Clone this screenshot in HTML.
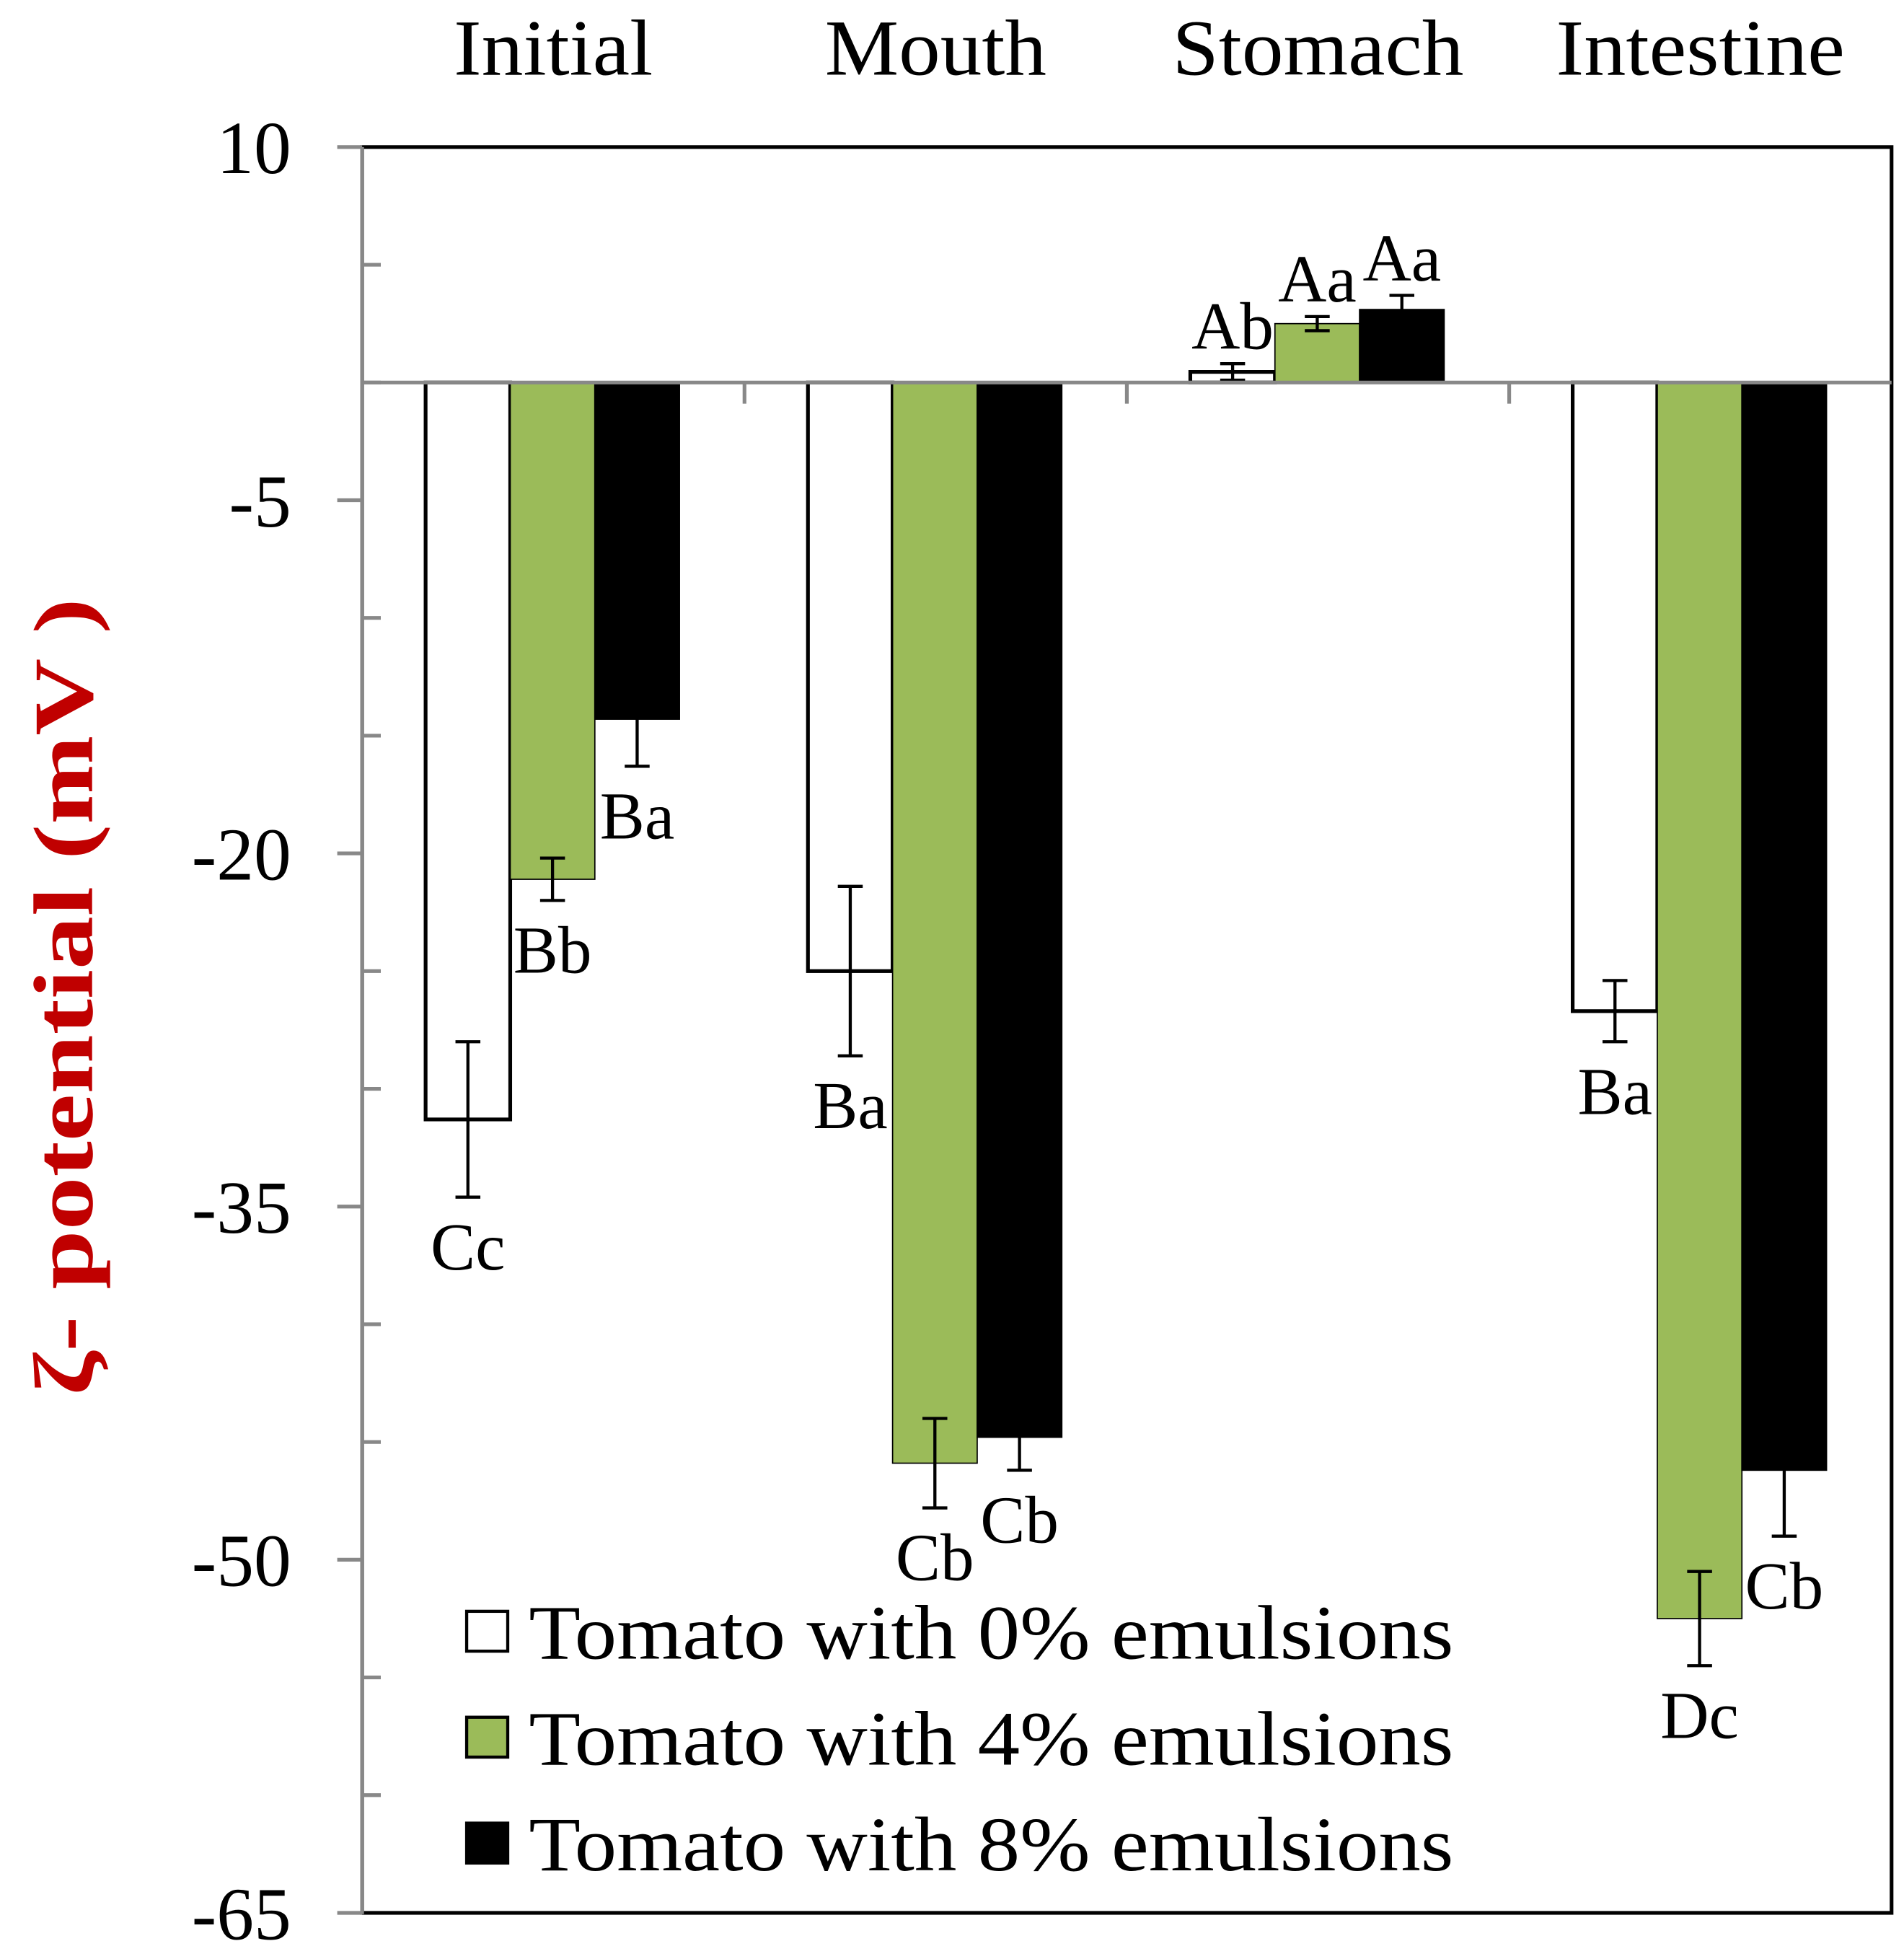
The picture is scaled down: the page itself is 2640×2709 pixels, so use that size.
<!DOCTYPE html>
<html><head><meta charset="utf-8"><style>
html,body{margin:0;padding:0;background:#fff;}
svg{display:block;}
text{font-family:"Liberation Serif",serif;}
</style></head><body>
<svg id="chart" width="2640" height="2709" viewBox="0 0 1530 1568" preserveAspectRatio="none" xmlns="http://www.w3.org/2000/svg"></svg>
<script>
const categories = ["Initial","Mouth","Stomach","Intestine"];
const seriesNames = ["Tomato with 0% emulsions","Tomato with 4% emulsions","Tomato with 8% emulsions"];
const values0 = [-31.3,-25.0,0.45,-26.7];
const values4 = [-21.1,-45.9,2.5,-52.5];
const values8 = [-14.3,-44.8,3.1,-46.2];
const errors0 = [3.3,3.6,0.35,1.3];
const errors4 = [0.9,1.9,0.3,2.0];
const errors8 = [2.0,1.4,0.6,2.8];
const letters0 = ["Cc","Ba","Ab","Ba"];
const letters4 = ["Bb","Cb","Aa","Dc"];
const letters8 = ["Ba","Cb","Aa","Cb"];
const yTicks = [10,-5,-20,-35,-50,-65];

const NS="http://www.w3.org/2000/svg";
const svg=document.getElementById('chart');
const L=291,R=1520,T=118,B=1535,ymax=10,ymin=-65;
const y=v=>T+(ymax-v)/(ymax-ymin)*(B-T);
const catW=(R-L)/categories.length;
const barW=68, off=51;
const x=(ci,si)=>L+ci*catW+off+si*barW;
function mk(tag,attrs,parent){const e=document.createElementNS(NS,tag);for(const k in attrs)e.setAttribute(k,attrs[k]);(parent||svg).appendChild(e);return e;}

const frame=mk('rect',{x:L,y:T,width:R-L,height:B-T,fill:'none',stroke:'#000','stroke-width':3});



const colors=['#ffffff','#9bbb59','#000000'];
const vals=[values0,values4,values8], errs=[errors0,errors4,errors8], lets=[letters0,letters4,letters8];
for(let s=0;s<3;s++){
  for(let c=0;c<categories.length;c++){
    const v=vals[s][c], y0=y(0), yv=y(v);
    const r=mk('rect',{x:x(c,s),y:Math.min(y0,yv),width:barW,height:Math.abs(yv-y0),fill:colors[s],stroke:'#000','stroke-width':s===0?3:1});
    
    
  }
}
for(let s=0;s<3;s++){
  for(let c=0;c<categories.length;c++){
    const v=vals[s][c], e=errs[s][c], cx=x(c,s)+barW/2;
    const g=mk('g',{stroke:'#000','stroke-width':2.5});
    
    
    mk('line',{x1:cx,x2:cx,y1:y(v+e),y2:y(v-e)},g);
    mk('line',{x1:cx-10,x2:cx+10,y1:y(v+e),y2:y(v+e)},g);
    mk('line',{x1:cx-10,x2:cx+10,y1:y(v-e),y2:y(v-e)},g);
    const ly = v>=0 ? y(v+e)-12 : y(v-e)+58;
    const t=mk('text',{x:cx,y:ly,'font-size':54,'text-anchor':'middle',fill:'#000'});
    t.textContent=lets[s][c];
    
    
  }
}
const zl=mk('line',{x1:L,x2:R,y1:y(0),y2:y(0),stroke:'#888','stroke-width':3});


for(let c=1;c<categories.length;c++){
  const tk=mk('line',{x1:L+c*catW,x2:L+c*catW,y1:y(0),y2:y(0)+17,stroke:'#888','stroke-width':3});
  
  
}
const la=mk('line',{x1:L,x2:L,y1:T,y2:B+1,stroke:'#888','stroke-width':3});


for(let v=ymax;v>=ymin;v-=5){
  const major=yTicks.includes(v);
  const tk=mk('line',{x1:major?L-20:L,x2:major?L:L+15,y1:y(v),y2:y(v),stroke:'#888','stroke-width':3});
  
  
}
for(const v of yTicks){
  const t=mk('text',{x:234,y:y(v)+21,'font-size':60,'text-anchor':'end',fill:'#000'});
  t.textContent=v;
  
  
}
const catLW=[160,178,234,232];
categories.forEach((c,i)=>{
  const t=mk('text',{x:L+i*catW+catW/2,y:60,'font-size':64,'text-anchor':'middle',fill:'#000',textLength:catLW[i],lengthAdjust:'spacingAndGlyphs'});
  t.textContent=c;
  
  
});
const yt=mk('text',{x:0,y:0,'font-size':68,'font-weight':'bold','text-anchor':'middle',fill:'#c00000',transform:'translate(74,800) rotate(-90)',textLength:640,lengthAdjust:'spacingAndGlyphs'});
yt.textContent='ζ- potential (mV )';


seriesNames.forEach((n,i)=>{
  const yy=1293+i*85;
  const g=mk('g',{});
  
  
  mk('rect',{x:375,y:yy,width:33,height:32,fill:colors[i],stroke:'#000','stroke-width':2.5},g);
  const t=mk('text',{x:425,y:yy+38,'font-size':62,fill:'#000',textLength:743,lengthAdjust:'spacingAndGlyphs'},g);
  t.textContent=n;
});
</script>
</body></html>
